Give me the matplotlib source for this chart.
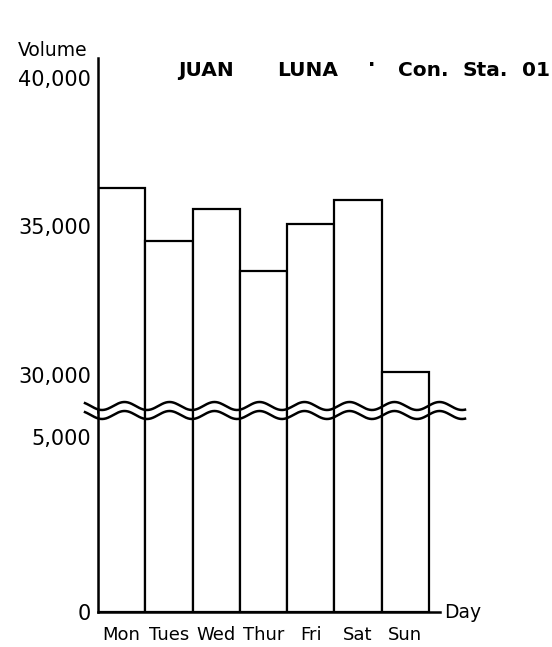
import numpy as np
import matplotlib
matplotlib.use('Agg')
import matplotlib.pyplot as plt

plt.rcParams['font.family'] = 'DejaVu Sans'

# data
days = ['Mon', 'Tues', 'Wed', 'Thur', 'Fri', 'Sat', 'Sun']
volume = [36300, 34500, 35600, 33500, 35100, 35900, 30100]
upper_ticks = [30000, 35000, 40000]
lower_ticks = [0, 5000]

W, H = 552, 647
fig = plt.figure(figsize=(W / 100, H / 100), dpi=100)

def fx(px):
    return px / W

def fy(py):
    return (H - py) / H

left, right = 98, 440
ax_top = fig.add_axes([fx(left), fy(412), fx(right - left), fy(58) - fy(412)])
ax_bot = fig.add_axes([fx(left), fy(612), fx(right - left), fy(410) - fy(612)])

x = np.arange(len(days))
xmax = (right - left) / ((429 - left) / len(days))

for ax in (ax_top, ax_bot):
    ax.bar(x, volume, width=1.0, align='edge', color='white',
           edgecolor='black', linewidth=1.6)
    ax.set_xlim(0, xmax)
    ax.spines['top'].set_visible(False)
    ax.spines['right'].set_visible(False)
    ax.spines['left'].set_linewidth(1.8)
    ax.tick_params(axis='both', length=0, labelsize=15, pad=5)
    ax.patch.set_alpha(0)

ax_top.set_ylim(28754, 40673)
ax_top.spines['bottom'].set_visible(False)
ax_top.set_xticks([])
ax_top.set_yticks(upper_ticks)
ax_top.set_yticklabels([f'{t:,}' for t in upper_ticks])

ax_bot.set_ylim(0, 5771)
ax_bot.spines['bottom'].set_linewidth(1.8)
ax_bot.set_yticks(lower_ticks)
ax_bot.set_yticklabels([f'{t:,}' if t else '0' for t in lower_ticks])
ax_bot.set_xticks(x + 0.5)
ax_bot.set_xticklabels(days, fontsize=13)
ax_bot.tick_params(axis='x', pad=10)
ax_bot.text(xmax + 0.08, 0, 'Day', fontsize=13.5, va='center', ha='left')

# break marks (wavy lines) in pixel space
ov = fig.add_axes([0, 0, 1, 1])
ov.set_xlim(0, W)
ov.set_ylim(H, 0)
ov.axis('off')
wx = np.linspace(85, 465, 400)
wave = 4 * np.cos(2 * np.pi * (wx - 147) / 45)
ov.plot(wx, 406 + wave, color='black', lw=1.8)
ov.plot(wx, 415 + wave, color='black', lw=1.8)

# labels
ov.text(53, 50, 'Volume', fontsize=13.5, ha='center', va='center')
title_parts = [('JUAN', 178), ('LUNA', 277), ('Con.', 398), ('Sta.', 462), ('01', 522)]
for word, px in title_parts:
    ov.text(px, 70, word, fontsize=14.5, fontweight='bold', ha='left', va='center')
ov.text(372, 66, '·', fontsize=14, fontweight='bold', ha='center', va='center')

fig.savefig('out.png', dpi=100, facecolor='white')
